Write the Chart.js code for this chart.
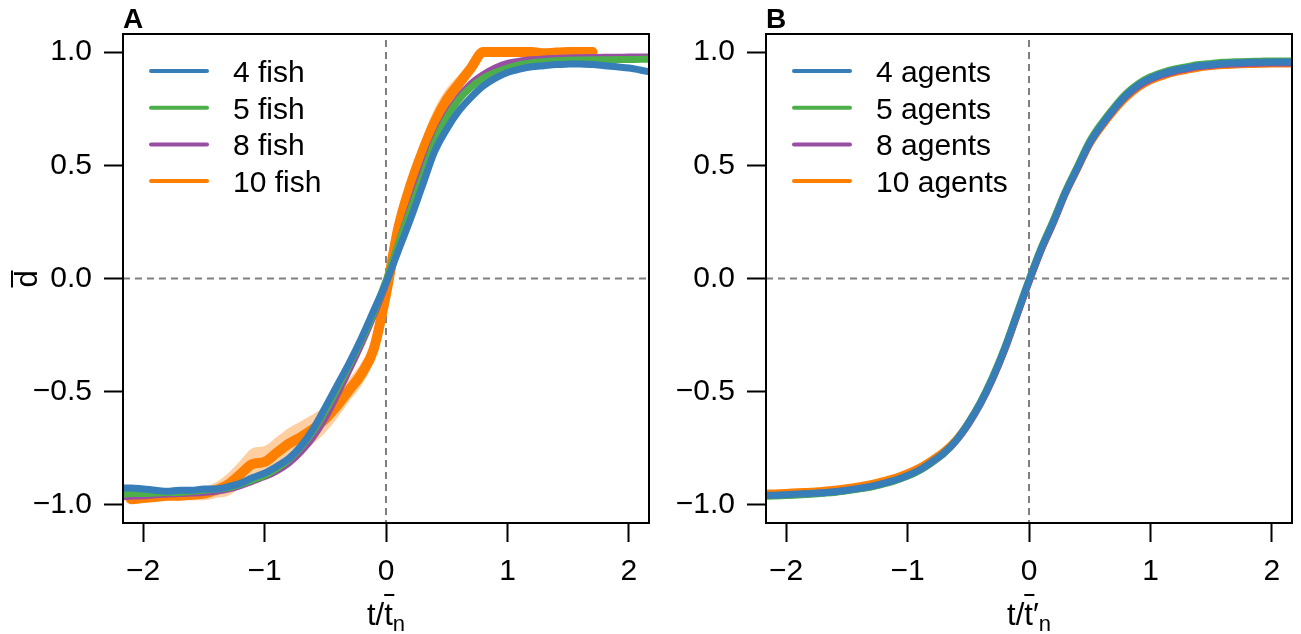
<!DOCTYPE html>
<html><head><meta charset="utf-8">
<script src="https://cdn.jsdelivr.net/npm/chart.js@4.4.1/dist/chart.umd.min.js"></script>
<style>
html,body{margin:0;padding:0;background:#fff;}
#wrap{position:relative;width:1301px;height:634px;overflow:hidden;background:#fff;}
canvas{position:absolute;top:0;}
#cA{left:0;} #cB{left:660px;}
</style></head><body>
<div id="wrap"><canvas id="cA" width="660" height="634"></canvas><canvas id="cB" width="641" height="634"></canvas></div>
<script>
// ---------- data ----------
const xGrid = [-2.2,-2.1,-2.0,-1.9,-1.8,-1.7,-1.6,-1.5,-1.4,-1.3,-1.2,-1.1,-1.0,-0.9,-0.8,-0.7,-0.6,-0.5,-0.4,-0.3,-0.2,-0.1,0.0,
  0.1,0.2,0.3,0.4,0.5,0.6,0.7,0.8,0.9,1.0,1.1,1.2,1.3,1.4,1.5,1.6,1.7,1.8,1.9,2.0,2.1,2.2];
const xTicks = [-2,-1,0,1,2];
const yTicks = [-1.0,-0.5,0.0,0.5,1.0];

const labelsA = ["4 fish","5 fish","8 fish","10 fish"];
const labelsB = ["4 agents","5 agents","8 agents","10 agents"];

const fish4 = [-0.925,-0.925,-0.93,-0.935,-0.94,-0.935,-0.935,-0.93,-0.93,-0.92,-0.905,-0.88,-0.86,-0.83,-0.795,-0.74,-0.665,-0.57,-0.47,-0.37,-0.26,-0.14,-0.02,
  0.12,0.26,0.41,0.56,0.66,0.74,0.8,0.85,0.885,0.91,0.925,0.935,0.94,0.945,0.947,0.948,0.945,0.94,0.935,0.93,0.92,0.91];
const fish5 = [-0.955,-0.95,-0.95,-0.948,-0.945,-0.945,-0.94,-0.935,-0.93,-0.925,-0.91,-0.89,-0.87,-0.84,-0.8,-0.745,-0.675,-0.585,-0.485,-0.38,-0.27,-0.15,-0.01,
  0.15,0.3,0.45,0.6,0.71,0.79,0.845,0.885,0.91,0.93,0.945,0.953,0.958,0.962,0.964,0.965,0.966,0.966,0.967,0.967,0.968,0.968];
const fish8 = [-0.965,-0.962,-0.96,-0.955,-0.952,-0.95,-0.948,-0.945,-0.94,-0.93,-0.915,-0.895,-0.875,-0.85,-0.815,-0.765,-0.7,-0.615,-0.51,-0.4,-0.285,-0.16,-0.02,
  0.15,0.31,0.47,0.61,0.72,0.8,0.86,0.9,0.93,0.95,0.96,0.966,0.97,0.972,0.974,0.975,0.976,0.977,0.977,0.978,0.978,0.978];
const fish10 = [null,-0.975,-0.97,-0.965,-0.96,-0.96,-0.955,-0.95,-0.935,-0.91,-0.865,-0.82,-0.81,-0.77,-0.73,-0.7,-0.665,-0.62,-0.56,-0.49,-0.42,-0.31,-0.07,
  0.22,0.41,0.56,0.69,0.79,0.86,0.93,1.0,1.0,1.0,1.0,1.0,0.995,0.998,1.0,1.0,1.0,null,null,null,null,null];
const fish10Err = [null,0.02,0.02,0.02,0.02,0.02,0.025,0.03,0.035,0.05,0.06,0.07,0.07,0.07,0.07,0.07,0.065,0.06,0.055,0.05,0.05,0.05,0.06,
  0.06,0.06,0.06,0.06,0.05,0.04,0.03,0,0,0,0,0,0,0,0,0,0,null,null,null,null,null];

const agents4 = [-0.958,-0.957,-0.955,-0.952,-0.95,-0.946,-0.942,-0.935,-0.927,-0.918,-0.905,-0.89,-0.87,-0.845,-0.81,-0.77,-0.715,-0.64,-0.55,-0.44,-0.31,-0.16,-0.01,
  0.13,0.25,0.38,0.49,0.6,0.68,0.75,0.81,0.855,0.885,0.905,0.92,0.93,0.94,0.945,0.95,0.952,0.954,0.955,0.956,0.956,0.956];
const agents5 = [-0.962,-0.961,-0.958,-0.956,-0.953,-0.949,-0.945,-0.938,-0.93,-0.921,-0.908,-0.893,-0.873,-0.848,-0.813,-0.772,-0.715,-0.638,-0.546,-0.435,-0.305,-0.155,-0.005,
  0.135,0.257,0.386,0.497,0.607,0.688,0.757,0.817,0.861,0.891,0.911,0.926,0.936,0.945,0.95,0.955,0.957,0.959,0.96,0.961,0.961,0.961];
const agents8 = [-0.96,-0.959,-0.957,-0.954,-0.951,-0.947,-0.943,-0.936,-0.928,-0.919,-0.906,-0.891,-0.872,-0.847,-0.813,-0.773,-0.718,-0.645,-0.555,-0.445,-0.315,-0.165,-0.015,
  0.125,0.247,0.377,0.487,0.597,0.677,0.747,0.806,0.85,0.88,0.9,0.915,0.926,0.936,0.941,0.946,0.948,0.95,0.951,0.952,0.952,0.952];
const agents10 = [-0.948,-0.947,-0.945,-0.942,-0.94,-0.936,-0.931,-0.924,-0.916,-0.906,-0.893,-0.878,-0.858,-0.833,-0.8,-0.762,-0.71,-0.638,-0.55,-0.442,-0.315,-0.165,-0.015,
  0.125,0.245,0.375,0.484,0.592,0.671,0.739,0.797,0.842,0.873,0.893,0.909,0.92,0.93,0.936,0.941,0.943,0.945,0.946,0.947,0.947,0.947];

const colors = ["#377EB8","#4DAF4A","#984EA3","#FF7F00"];
const bandColor = "rgba(255,140,30,0.42)";

// ---------- helpers ----------
const FONT = '"Liberation Sans", Arial, Helvetica, sans-serif';
const FS = 30;
Chart.defaults.font.family = FONT;
Chart.defaults.color = '#000';
const pts = arr => xGrid.map((x,i) => ({x: x, y: arr[i]}));
const minus = s => String(s).replace('-', '\u2212');

function lineDs(label, data, color, width){
  return {label, data: pts(data), borderColor: color, backgroundColor: color, borderWidth: width,
    pointRadius: 0, fill: false, cubicInterpolationMode: 'monotone', borderCapStyle: 'round',
    borderJoinStyle: 'round', spanGaps: false, clip: {left:0,top:0,right:0,bottom:0}};
}

const decor = {
  id: 'decor',
  beforeDatasetsDraw(chart, args, o){
    const {ctx, chartArea: a, scales: {x, y}} = chart;
    ctx.save();
    ctx.beginPath(); ctx.rect(a.left, a.top, a.right - a.left, a.bottom - a.top); ctx.clip();
    ctx.strokeStyle = '#7f7f7f'; ctx.lineWidth = 2; ctx.setLineDash([7,5]);
    const x0 = x.getPixelForValue(0), y0 = y.getPixelForValue(0);
    ctx.beginPath();
    ctx.moveTo(x0, a.top + 6); ctx.lineTo(x0, a.bottom);
    ctx.moveTo(a.left, y0); ctx.lineTo(a.right, y0);
    ctx.stroke();
    ctx.restore();
  },
  afterDraw(chart, args, o){
    const {ctx, chartArea: a} = chart;
    ctx.save();
    // box
    ctx.strokeStyle = '#000'; ctx.lineWidth = 2; ctx.setLineDash([]);
    ctx.strokeRect(a.left, a.top, a.right - a.left, a.bottom - a.top);
    // panel title
    ctx.fillStyle = '#000';
    ctx.font = 'bold 28px ' + FONT;
    ctx.textAlign = 'left'; ctx.textBaseline = 'alphabetic';
    ctx.fillText(o.title, a.left, 28);
    // legend
    ctx.font = FS + 'px ' + FONT;
    o.labels.forEach((lab, i) => {
      const yy = 71 + i * 36.7;
      ctx.strokeStyle = colors[i]; ctx.lineWidth = 4; ctx.lineCap = 'round';
      ctx.beginPath(); ctx.moveTo(a.left + 28, yy); ctx.lineTo(a.left + 84, yy); ctx.stroke();
      ctx.fillText(lab, a.left + 110, yy + 10.8);
    });
    // x axis title  t / t̄ (′) n
    const cx = (a.left + a.right) / 2;
    const base = 625;
    const big = 31, small = 22;
    ctx.font = big + 'px ' + FONT;
    const w1 = ctx.measureText('t/').width;
    const wt = ctx.measureText('t').width;
    const wp = o.prime ? ctx.measureText('\u2032').width : 0;
    ctx.font = small + 'px ' + FONT;
    const wn = ctx.measureText('n').width;
    const total = w1 + wt + wp + wn;
    let sx = cx - total / 2;
    ctx.font = big + 'px ' + FONT;
    ctx.fillText('t/', sx, base);
    ctx.fillText('t', sx + w1, base);
    ctx.strokeStyle = '#000'; ctx.lineWidth = 2; ctx.lineCap = 'butt';
    ctx.beginPath(); ctx.moveTo(sx + w1, base - 30); ctx.lineTo(sx + w1 + wt + 1.5, base - 30); ctx.stroke();
    if (o.prime) ctx.fillText('\u2032', sx + w1 + wt, base);
    ctx.font = small + 'px ' + FONT;
    ctx.fillText('n', sx + w1 + wt + wp, base + 6);
    // y axis title d̄
    if (o.ylab) {
      ctx.save();
      ctx.translate(37, 279);
      ctx.rotate(-Math.PI / 2);
      ctx.font = big + 'px ' + FONT;
      ctx.textAlign = 'center';
      const wd = ctx.measureText('d').width;
      ctx.fillText('d', 0, 0);
      ctx.lineWidth = 2;
      ctx.beginPath(); ctx.moveTo(-wd / 2, -25); ctx.lineTo(wd / 2, -25); ctx.stroke();
      ctx.restore();
    }
    ctx.restore();
  }
};

function makeChart(id, datasets, opts){
  return new Chart(document.getElementById(id), {
    type: 'line',
    data: {datasets},
    plugins: [decor],
    options: {
      responsive: false, animation: false, devicePixelRatio: 1,
      layout: {padding: {top: 34, right: opts.padRight, left: 0, bottom: 0}},
      plugins: {legend: {display: false}, tooltip: {enabled: false}, decor: opts.decor},
      scales: {
        x: {type: 'linear', min: -2.165, max: 2.165,
          afterFit: s => { s.height = 111; },
          afterBuildTicks: s => { s.ticks = xTicks.map(v => ({value: v})); },
          grid: {drawOnChartArea: false, drawTicks: true, tickLength: 19, tickWidth: 2, tickColor: '#000'},
          border: {display: false},
          ticks: {padding: 12, font: {size: FS}, color: '#000', maxRotation: 0, callback: v => minus(v)}},
        y: {type: 'linear', min: -1.08, max: 1.08,
          afterFit: s => { s.width = opts.yWidth; },
          afterBuildTicks: s => { s.ticks = yTicks.map(v => ({value: v})); },
          grid: {drawOnChartArea: false, drawTicks: true, tickLength: 19, tickWidth: 2, tickColor: '#000'},
          border: {display: false},
          ticks: {padding: 12, font: {size: FS}, color: '#000', callback: v => minus(Number(v).toFixed(1))}}
      }
    }
  });
}

// Panel A
const upA = fish10.map((v, i) => v === null ? null : v + fish10Err[i]);
const loA = fish10.map((v, i) => v === null ? null : v - fish10Err[i]);
const dsA = [
  lineDs(labelsA[0], fish4, colors[0], 7),
  lineDs(labelsA[1], fish5, colors[1], 7),
  lineDs(labelsA[2], fish8, colors[2], 7),
  lineDs(labelsA[3], fish10, colors[3], 10),
  Object.assign(lineDs('band hi', upA, 'rgba(0,0,0,0)', 0), {fill: '+1', backgroundColor: bandColor}),
  lineDs('band lo', loA, 'rgba(0,0,0,0)', 0)
];
makeChart('cA', dsA, {padRight: 11, yWidth: 123,
  decor: {title: 'A', labels: labelsA, prime: false, ylab: true}});

// Panel B
const dsB = [
  lineDs(labelsB[0], agents4, colors[0], 7),
  lineDs(labelsB[1], agents5, colors[1], 7),
  lineDs(labelsB[2], agents8, colors[2], 7),
  lineDs(labelsB[3], agents10, colors[3], 7)
];
makeChart('cB', dsB, {padRight: 9, yWidth: 106,
  decor: {title: 'B', labels: labelsB, prime: true, ylab: false}});
</script>
</body></html>
